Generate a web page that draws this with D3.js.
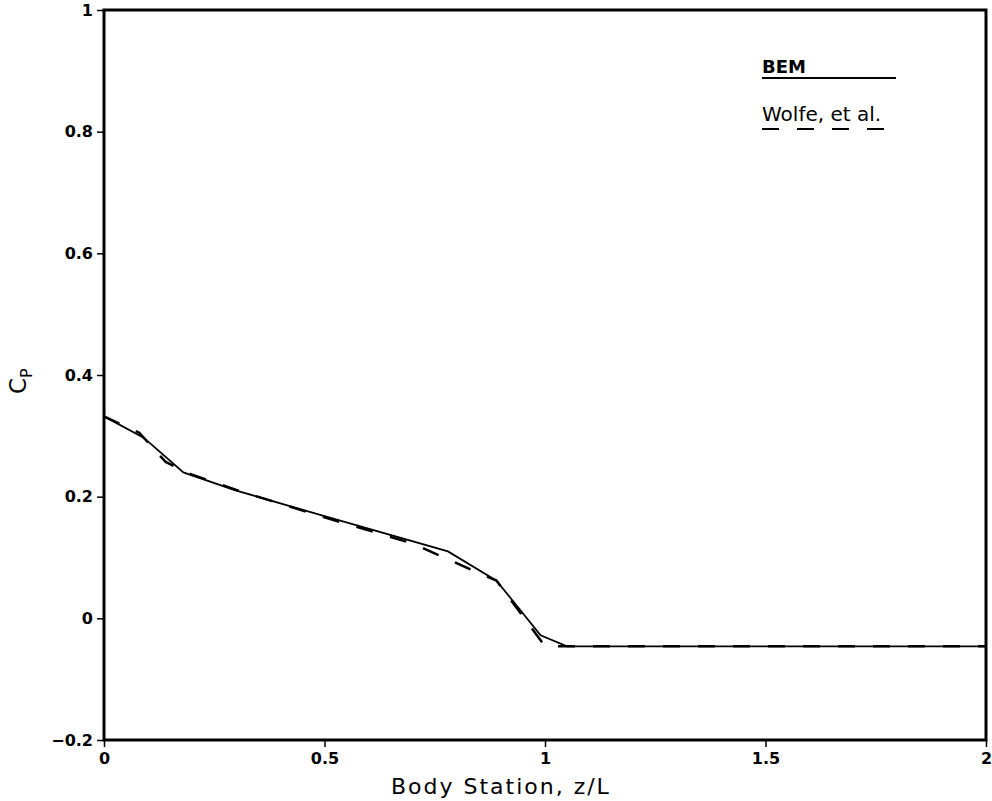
<!DOCTYPE html>
<html>
<head>
<meta charset="utf-8">
<script src="https://cdn.jsdelivr.net/npm/d3@7"></script>
<style>
  body { margin: 0; background: #fff; }
  text { fill: #000; }
</style>
</head>
<body>
<div id="chart"></div>
<script>
// BEM (solid) and Wolfe, et al. (dashed) pressure coefficient curves
var bemZ  = [0, 0.09, 0.18, 0.30, 0.50, 0.78, 0.89, 0.99, 1.05, 2.0];
var bemCp = [0.332, 0.297, 0.240, 0.210, 0.168, 0.110, 0.062, -0.028, -0.046, -0.046];

var wolfeZ  = [0, 0.08, 0.14, 0.20, 0.30, 0.50, 0.70, 0.86, 0.89, 1.00, 2.0];
var wolfeCp = [0.332, 0.305, 0.257, 0.236, 0.211, 0.166, 0.123, 0.071, 0.062, -0.046, -0.046];

var xTicks = [0, 0.5, 1, 1.5, 2];
var xTickLabels = ["0", "0.5", "1", "1.5", "2"];
var yTicks = [-0.2, 0, 0.2, 0.4, 0.6, 0.8, 1];
var yTickLabels = ["\u22120.2", "0", "0.2", "0.4", "0.6", "0.8", "1"];

var legendNames = ["BEM", "Wolfe, et al."];

var margin = {top: 10, right: 5, bottom: 61, left: 104},
    width = 992 - margin.left - margin.right,
    height = 801 - margin.top - margin.bottom;

var x = d3.scaleLinear().domain([0, 2]).range([0, width - 1]);
var y = d3.scaleLinear().domain([-0.2, 1]).range([height, 0]);

var svg = d3.select("#chart")
  .append("svg")
    .attr("width", 992)
    .attr("height", 801)
  .append("g")
    .attr("transform", "translate(" + margin.left + "," + margin.top + ")");

// frame
svg.append("rect")
  .attr("x", 0).attr("y", 0)
  .attr("width", width - 1).attr("height", height)
  .attr("fill", "none")
  .attr("stroke", "#000")
  .attr("stroke-width", 3);

// axes
var xAxis = d3.axisBottom(x)
  .tickValues(xTicks)
  .tickSize(7)
  .tickPadding(6)
  .tickFormat(function(d, i) { return xTickLabels[i]; });
var yAxis = d3.axisLeft(y)
  .tickValues(yTicks)
  .tickSize(7)
  .tickPadding(4)
  .tickFormat(function(d, i) { return yTickLabels[i]; });

svg.append("g")
  .attr("transform", "translate(0," + height + ")")
  .call(xAxis);
svg.append("g").call(yAxis);

svg.selectAll(".domain").remove();
svg.selectAll("g.tick line")
  .attr("stroke", "#000")
  .attr("stroke-width", 1.5);
svg.selectAll("g.tick text")
  .style("font-family", "'DejaVu Sans', sans-serif")
  .style("font-weight", "bold")
  .style("font-size", "16px")
  .attr("fill", "#000");

// axis titles
svg.append("text")
  .attr("x", x(0.9))
  .attr("y", height + 54)
  .style("text-anchor", "middle")
  .style("font-family", "'DejaVu Sans', sans-serif")
  .style("font-size", "22px")
  .style("letter-spacing", "2px")
  .text("Body Station, z/L");

var yl = svg.append("text")
  .attr("transform", "translate(" + (-78) + "," + y(0.39) + ") rotate(-90)")
  .style("text-anchor", "middle")
  .style("font-family", "'DejaVu Sans', sans-serif")
  .style("font-size", "23px");
yl.append("tspan").text("C");
yl.append("tspan")
  .attr("dy", 6)
  .style("font-size", "16px")
  .text("P");

// curves
function toPoints(zs, cps) {
  return zs.map(function(z, i) { return [z, cps[i]]; });
}
var line = d3.line()
  .x(function(d) { return x(d[0]); })
  .y(function(d) { return y(d[1]); });

svg.append("path")
  .datum(toPoints(wolfeZ, wolfeCp))
  .attr("fill", "none")
  .attr("stroke", "#000")
  .attr("stroke-width", 2.5)
  .attr("stroke-dasharray", "17,18")
  .attr("d", line);

svg.append("path")
  .datum(toPoints(bemZ, bemCp))
  .attr("fill", "none")
  .attr("stroke", "#000")
  .attr("stroke-width", 1.8)
  .attr("d", line);

// legend
var legend = svg.append("g")
  .attr("transform", "translate(" + (762 - margin.left) + "," + (50 - margin.top) + ")");

legendNames.forEach(function(name, i) {
  var g = legend.append("g").attr("transform", "translate(0," + (i * 48) + ")");
  g.append("text")
    .attr("x", 0).attr("y", 23)
    .style("font-family", "'DejaVu Sans', sans-serif")
    .style("font-size", i === 0 ? "18px" : "20px")
    .style("font-weight", i === 0 ? "bold" : "normal")
    .text(name);
  g.append("line")
    .attr("x1", 0).attr("x2", i === 0 ? 134 : 126)
    .attr("y1", 28 + i * 3).attr("y2", 28 + i * 3)
    .attr("stroke", "#000")
    .attr("stroke-width", 2)
    .attr("stroke-dasharray", i === 0 ? null : "17,18");
});
</script>
</body>
</html>
